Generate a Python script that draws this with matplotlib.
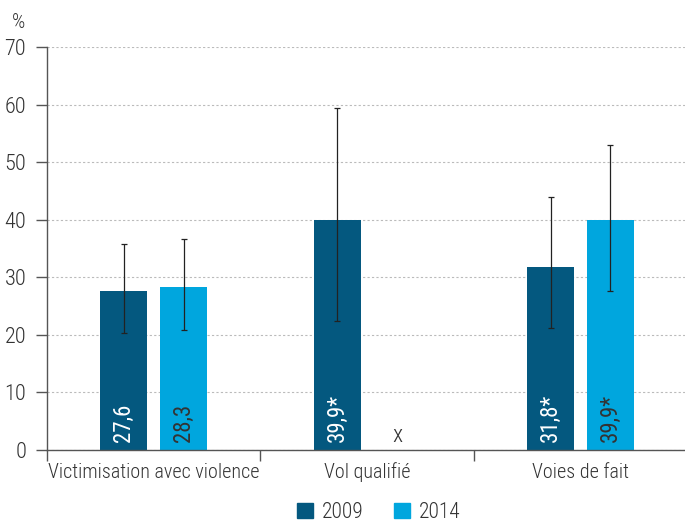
import matplotlib
matplotlib.use('Agg')
import matplotlib.pyplot as plt
from matplotlib.patches import Patch
import numpy as np

plt.rcParams['font.family'] = ['Roboto Condensed', 'Barlow Semi Condensed', 'DejaVu Sans']
plt.rcParams['font.weight'] = 'light'

categories = ["Victimisation avec violence", "Vol qualifié", "Voies de fait"]
years = ["2009", "2014"]
v2009 = [27.6, 39.9, 31.8]
v2014 = [28.3, 0.0, 39.9]
lo2009 = [20.3, 22.4, 21.2]
hi2009 = [35.8, 59.4, 43.9]
lo2014 = [20.8, 0.0, 27.6]
hi2014 = [36.7, 0.0, 53.0]
lab2009 = ["27,6", "39,9*", "31,8*"]
lab2014 = ["28,3", "x", "39,9*"]
has_err2014 = [True, False, True]

c_dark = '#04587f'
c_light = '#00a6de'
txt = '#333333'

fig = plt.figure(figsize=(6.85, 5.24), dpi=100)
ax = fig.add_axes([0.0686, 0.1412, 0.9314, 0.7691])

x = np.arange(len(categories))
off = 0.14
w = 0.22

ax.bar(x - off, v2009, w, color=c_dark, zorder=2)
ax.bar(x + off, v2014, w, color=c_light, zorder=2)

# confidence intervals
err_kw = dict(fmt='none', ecolor='#222222', elinewidth=0.9, capsize=2.5, capthick=0.9, zorder=3)
y1 = np.array(v2009)
ax.errorbar(x - off, y1, yerr=[y1 - np.array(lo2009), np.array(hi2009) - y1], **err_kw)
for i in range(len(categories)):
    if has_err2014[i]:
        ax.errorbar(x[i] + off, v2014[i], yerr=[[v2014[i] - lo2014[i]], [hi2014[i] - v2014[i]]], **err_kw)

# value labels inside the bars
for i in range(len(categories)):
    ax.text(x[i] - off, 1.4, lab2009[i], rotation=90, ha='center', va='bottom',
            color='white', fontsize=16.5, fontweight='normal', zorder=4)
    if has_err2014[i]:
        ax.text(x[i] + off, 1.4, lab2014[i], rotation=90, ha='center', va='bottom',
                color=txt, fontsize=16.5, fontweight='normal', zorder=4)
    else:
        ax.text(x[i] + off, 0.6, lab2014[i], ha='center', va='bottom',
                color=txt, fontsize=17, zorder=4)

ax.set_ylim(0, 70)
ax.set_yticks(range(0, 71, 10))
ax.set_xlim(-0.5, 2.49)
ax.set_xticks([-0.5, 0.5, 1.5])
ax.set_xticklabels([])
ax.set_xticks(x, minor=True)
ax.set_xticklabels(categories, minor=True)
ax.tick_params(axis='x', which='minor', length=0, pad=9, labelsize=14.5, labelcolor=txt)
ax.tick_params(axis='x', which='major', length=8, width=1, color='#555555')
ax.tick_params(axis='y', length=8, width=1, color='#555555', pad=7, labelsize=16, labelcolor=txt)

ax.yaxis.grid(True, linestyle=(0, (2, 2)), color='#bbbbbb', linewidth=0.8, zorder=0)
ax.set_axisbelow(True)
for s in ['top', 'right']:
    ax.spines[s].set_visible(False)
for s in ['left', 'bottom']:
    ax.spines[s].set_color('#555555')
    ax.spines[s].set_linewidth(1)

fig.text(0.018, 0.958, '%', fontsize=15, color=txt, ha='left', va='center')

handles = [Patch(color=c_dark, label=years[0]), Patch(color=c_light, label=years[1])]
fig.legend(handles=handles, loc='lower center', bbox_to_anchor=(0.553, -0.035), ncol=2,
           frameon=False, fontsize=15.5, handlelength=0.75, handleheight=0.75,
           handletextpad=0.4, columnspacing=1.4, labelcolor=txt)

fig.savefig('out.png', dpi=100)
